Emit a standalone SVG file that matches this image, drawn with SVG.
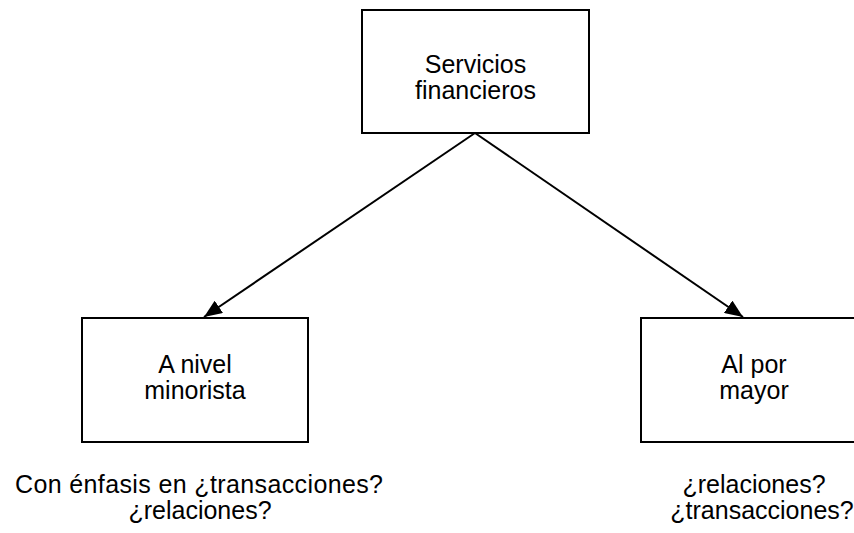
<svg xmlns="http://www.w3.org/2000/svg" width="854" height="533" viewBox="0 0 854 533">
  <style>
    .box { fill: #ffffff; stroke: #000000; stroke-width: 2; }
    .lbl { font-family: "Liberation Sans", Arial, sans-serif; font-size: 25px; fill: #000000; text-anchor: middle; }
    .edge { stroke: #000000; stroke-width: 2; fill: none; }
  </style>
  <defs>
    <marker id="arrow" markerUnits="userSpaceOnUse" markerWidth="19" markerHeight="15" refX="18" refY="7.5" orient="auto">
      <path d="M0,0 L18,7.5 L0,15 Z" fill="#000000"/>
    </marker>
  </defs>
  <rect width="854" height="533" fill="#ffffff"/>

  <g id="connectors">
    <line class="edge" x1="475" y1="133" x2="204" y2="317" marker-end="url(#arrow)"/>
    <line class="edge" x1="475" y1="133" x2="743" y2="317" marker-end="url(#arrow)"/>
  </g>

  <g id="node-servicios">
    <rect class="box" x="362" y="10" width="227" height="123"/>
    <text class="lbl" x="475.5" y="73">Servicios</text>
    <text class="lbl" x="475.5" y="99">financieros</text>
  </g>

  <g id="node-minorista">
    <rect class="box" x="82" y="318" width="226" height="124"/>
    <text class="lbl" x="195" y="373">A nivel</text>
    <text class="lbl" x="195" y="399">minorista</text>
  </g>

  <g id="node-mayor">
    <rect class="box" x="641" y="318" width="226" height="124"/>
    <text class="lbl" x="754" y="373">Al por</text>
    <text class="lbl" x="754" y="399">mayor</text>
  </g>

  <g id="note-minorista">
    <text class="lbl" x="199" y="493" textLength="368" lengthAdjust="spacing">Con énfasis en ¿transacciones?</text>
    <text class="lbl" x="200" y="519">¿relaciones?</text>
  </g>

  <g id="note-mayor">
    <text class="lbl" x="754" y="493">¿relaciones?</text>
    <text class="lbl" x="762" y="519">¿transacciones?</text>
  </g>
</svg>
